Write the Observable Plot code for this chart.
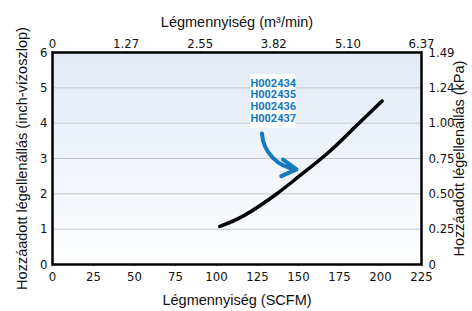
<!DOCTYPE html>
<html><head><meta charset="utf-8">
<script src="https://cdn.jsdelivr.net/npm/d3@7"></script>
<script src="https://cdn.jsdelivr.net/npm/@observablehq/plot@0.6"></script>
<style>
html,body{margin:0;padding:0;background:#fff;}
#chart svg{display:block;}
#chart g[aria-label$="tick label"] text{font-family:"Liberation Sans Narrow","DejaVu Sans Condensed",sans-serif;font-size:13px;fill:#111;}
#chart g[aria-label$="axis label"] text{font-family:"Liberation Sans",Arial,sans-serif;font-size:14.5px;fill:#111;}
</style></head>
<body><div id="chart"></div>
<script>
// Bottom axis: SCFM
const scfmTicks = [0, 25, 50, 75, 100, 125, 150, 175, 200, 225];
// Top axis: m3/min
const m3Ticks = [0, 1.27, 2.55, 3.82, 5.10, 6.37];
const m3Labels = ["0", "1.27", "2.55", "3.82", "5.10", "6.37"];
// Left axis: inch water column
const inchTicks = [0, 1, 2, 3, 4, 5, 6];
const inchLabels = ["0", "1", "2", "3", "4", "5", "6"];
// Right axis: kPa
const kpaLabels = ["0", "0.25", "0.50", "0.75", "1.00", "1.24", "1.49"];
// Curve
const flowScfm = [102, 117, 137, 151, 167.5, 184, 201];
const dropInch = [1.08, 1.39, 2.01, 2.52, 3.14, 3.87, 4.63];
// Model labels
const models = ["H002434", "H002435", "H002436", "H002437"];
// annotation anchor (data units)
const noteX = [134.6];
const noteY = [4.64];
const noteBoxX = [121, 148.5];
const noteBoxY = [3.85, 5.38];
const arrowFrom = [127.7, 3.71];
const arrowTo = [148.8, 2.69];

const curve = flowScfm.map((x, i) => ({x, y: dropInch[i]}));
const scfmPerM3 = 225 / 6.37;
const m3Pos = m3Ticks.map(v => v * scfmPerM3);

const svg = Plot.plot({
  width: 472,
  height: 311,
  marginLeft: 52,
  marginRight: 51,
  marginTop: 52,
  marginBottom: 47,
  x: {domain: [0, 225]},
  y: {domain: [0, 6]},
  marks: [
    Plot.frame({fill: "url(#bgGrad)", stroke: null}),
    Plot.gridY(inchTicks.slice(1, -1), {stroke: "#c4c6ca", strokeOpacity: 1, strokeWidth: 1}),
    Plot.rect([0], {x1: () => noteBoxX[0], x2: () => noteBoxX[1], y1: () => noteBoxY[0], y2: () => noteBoxY[1], fill: "white"}),
    Plot.text([models.join("\n")], {x: () => noteX[0], y: () => noteY[0], text: d => d, fill: "#1479bd", fontWeight: "bold", fontSize: 11, fontFamily: "Roboto, sans-serif", lineHeight: 1.07}),
    Plot.arrow([0], {x1: () => arrowFrom[0], y1: () => arrowFrom[1], x2: () => arrowTo[0], y2: () => arrowTo[1], bend: -40, stroke: "#1479bd", strokeWidth: 4, headLength: 14}),
    Plot.line(curve, {x: "x", y: "y", curve: "natural", stroke: "#000", strokeWidth: 3.5}),
    Plot.frame({stroke: "#000", strokeWidth: 2.5}),
    Plot.axisX({anchor: "bottom", ticks: scfmTicks, tickSize: 2, tickPadding: 5, label: "Légmennyiség (SCFM)", labelAnchor: "center", labelOffset: 40, labelArrow: "none"}),
    Plot.axisX({anchor: "top", ticks: m3Pos, tickFormat: d => m3Labels[m3Pos.indexOf(d)], tickSize: 2, tickPadding: 3, label: "Légmennyiség (m³/min)", labelAnchor: "center", labelOffset: 36, labelArrow: "none"}),
    Plot.axisY({anchor: "left", ticks: inchTicks, tickFormat: d => inchLabels[inchTicks.indexOf(d)], tickSize: 0, tickPadding: 5, label: "Hozzáadott légellenállás (inch-vízoszlop)", labelAnchor: "center", labelOffset: 36, labelArrow: "none"}),
    Plot.axisY({anchor: "right", ticks: inchTicks, tickFormat: d => kpaLabels[inchTicks.indexOf(d)], tickSize: 0, tickPadding: 7, label: "Hozzáadott légellenállás (kPa)", labelAnchor: "center", labelOffset: 42, labelArrow: "none"})
  ]
});

const defs = d3.select(svg).insert("defs", ":first-child");
const g = defs.append("linearGradient").attr("id", "bgGrad").attr("x1", 0).attr("y1", 0).attr("x2", 0).attr("y2", 1);
g.append("stop").attr("offset", "0%").attr("stop-color", "#e2eaf6");
g.append("stop").attr("offset", "100%").attr("stop-color", "#fdfeff");

document.getElementById("chart").appendChild(svg);
</script></body></html>
